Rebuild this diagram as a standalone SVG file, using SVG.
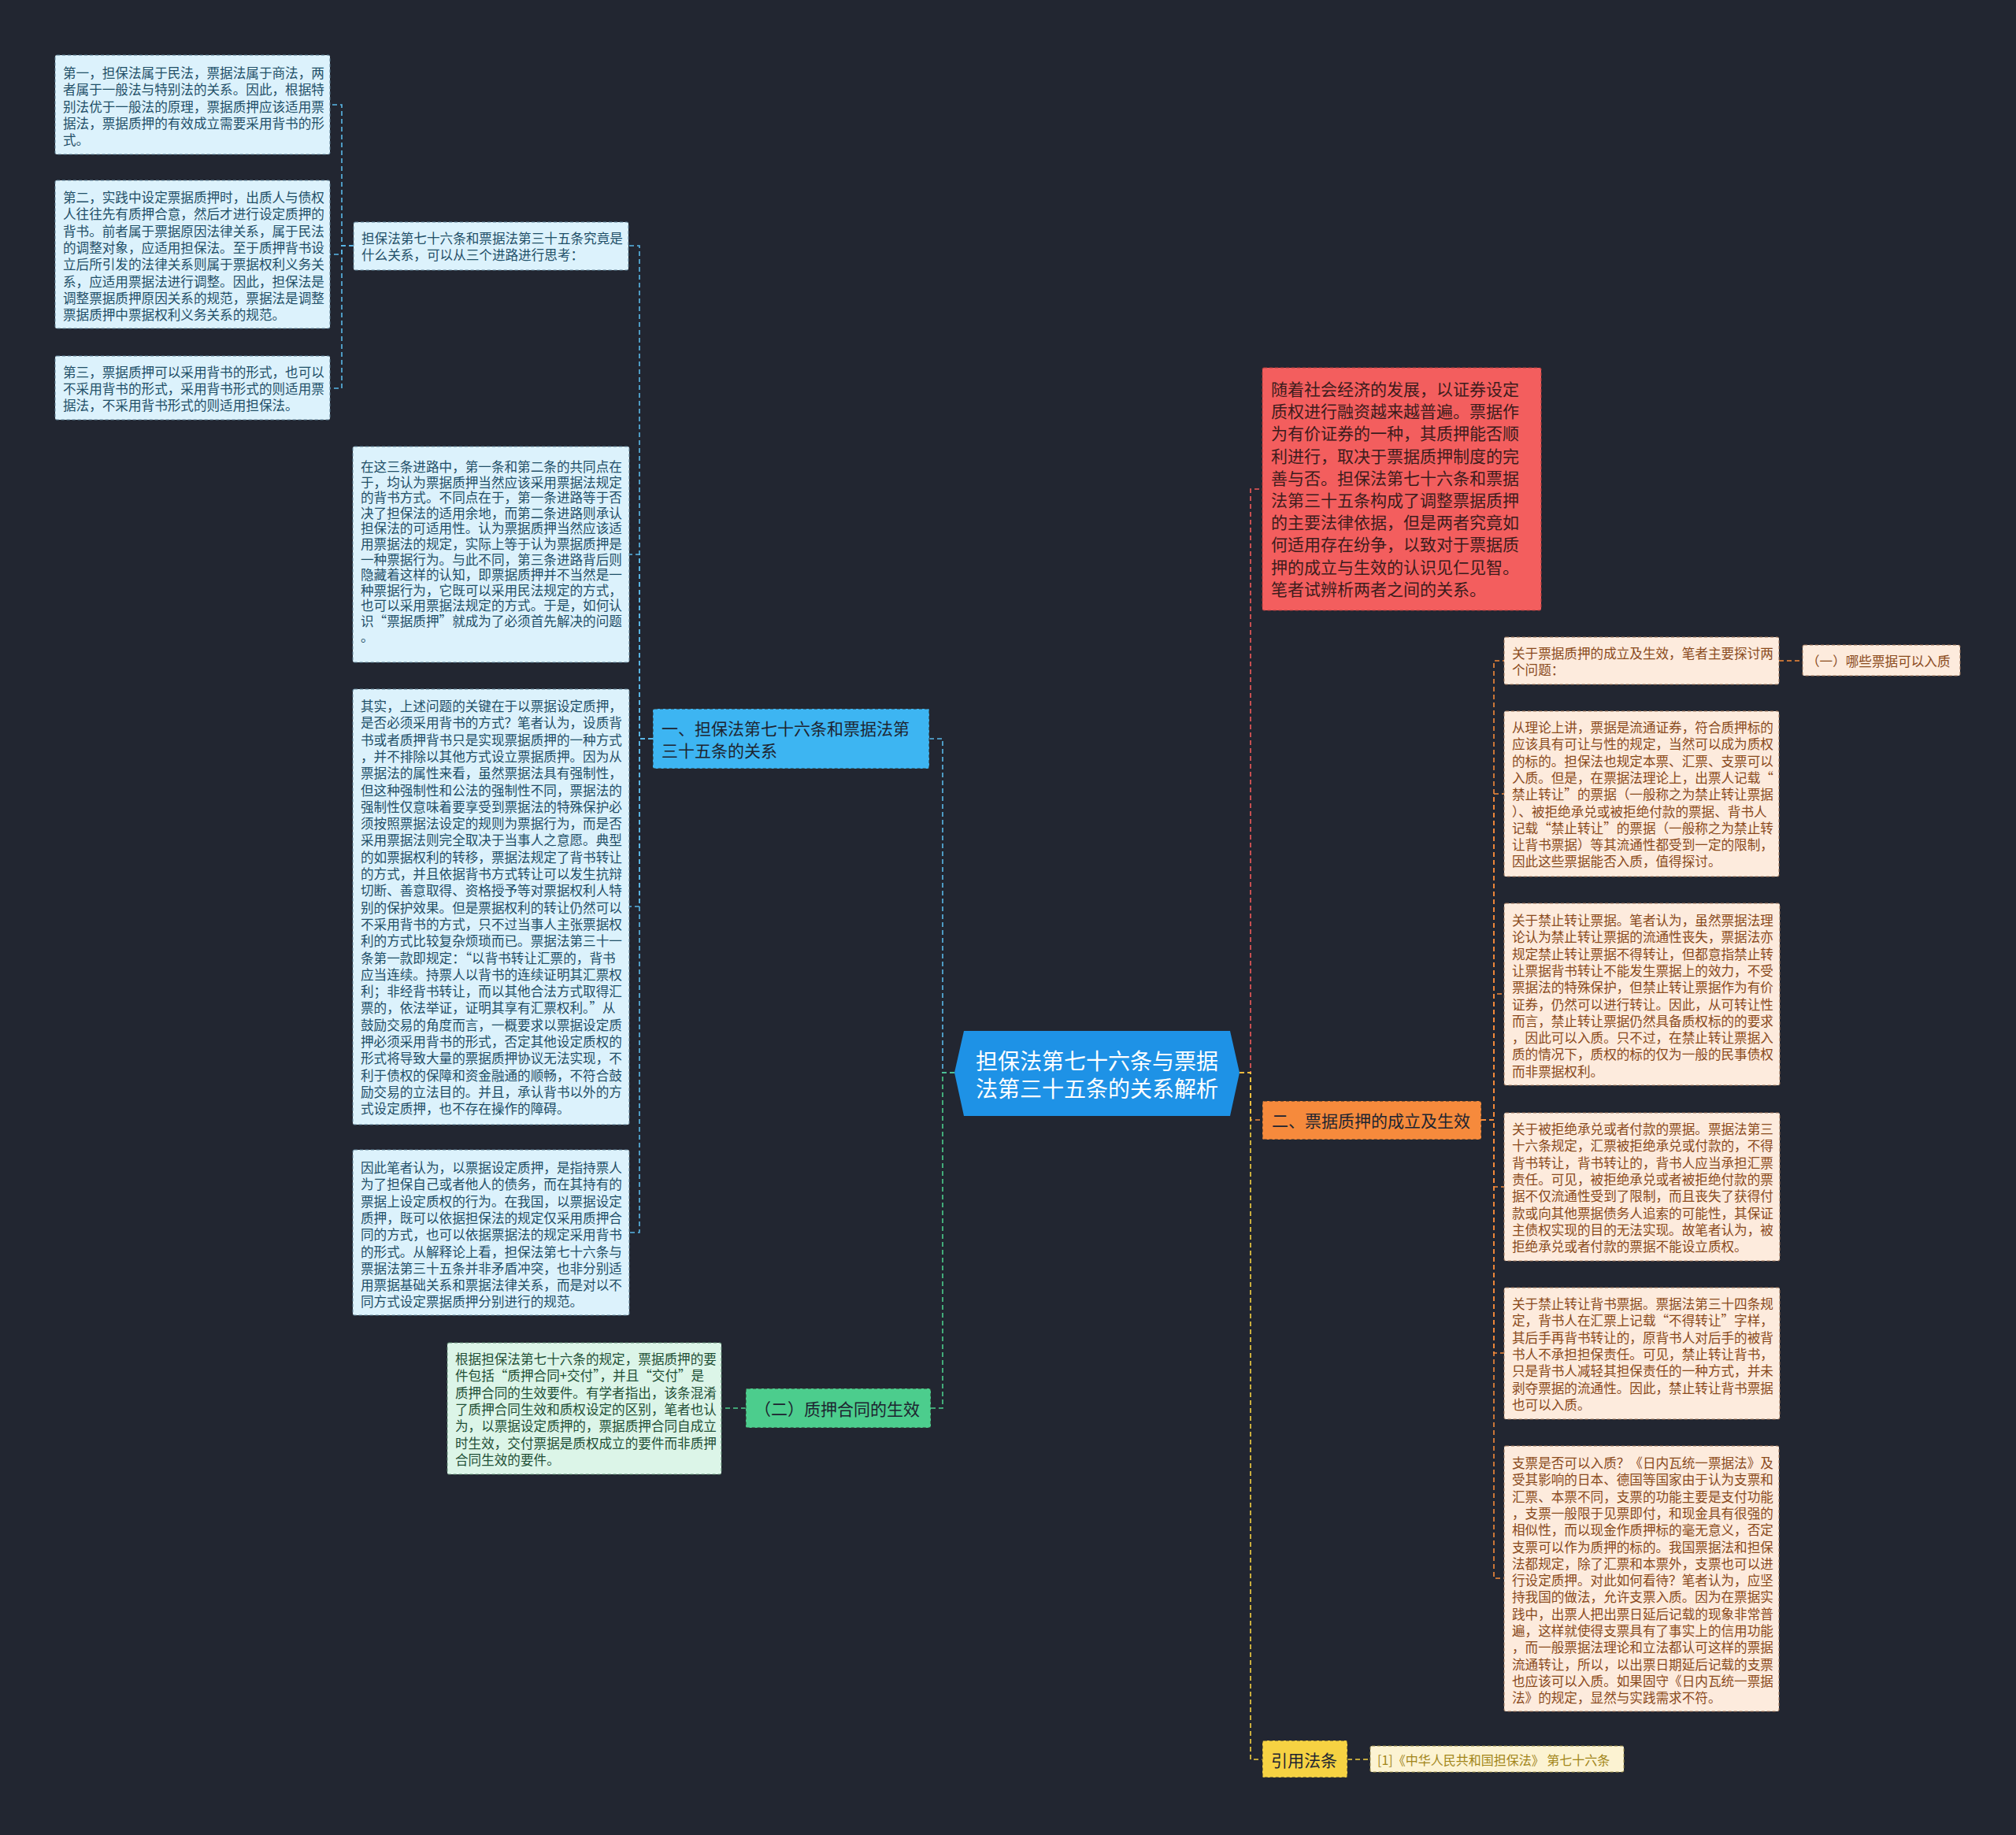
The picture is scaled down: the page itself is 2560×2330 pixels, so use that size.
<svg xmlns="http://www.w3.org/2000/svg" width="2560" height="2330" viewBox="0 0 2560 2330">
<style>
text{font-family:"Noto Sans CJK SC","Liberation Sans",sans-serif;dominant-baseline:central}
.bg{fill:#222631}
.lb rect{fill:#dcf2fc;stroke:#5f8196;stroke-width:1;stroke-dasharray:4 3}
.lb text{fill:#1f4f68;font-size:16.6px}
.gb rect{fill:#dcf5e8;stroke:#5f8a72;stroke-width:1;stroke-dasharray:4 3}
.gb text{fill:#1f4f36;font-size:16.6px}
.pb rect{fill:#fdebdd;stroke:#a0775a;stroke-width:1;stroke-dasharray:4 3}
.pb text{fill:#8a4a1c;font-size:16.6px}
.yb rect{fill:#fcf3d2;stroke:#a0914a;stroke-width:1;stroke-dasharray:4 3}
.yb text{fill:#a2861a;font-size:16px}
.red rect{fill:#f35e5e;stroke:#b03c3c;stroke-width:1;stroke-dasharray:4 3}
.red text{fill:#3d1c1c;font-size:21px}
.main rect{stroke:#2a2a2a;stroke-width:1;stroke-dasharray:4 3}
.main text{fill:#1d2430;font-size:21px}
.root polygon{fill:#1e92e6}
.root text{fill:#ffffff;font-size:28px;text-anchor:middle}
.c{fill:none;stroke-width:1.6;stroke-dasharray:6 4}
.cb{stroke:#5ab8e8}
.cg{stroke:#4cce8c}
.cr{stroke:#f05a5a}
.co{stroke:#f58a3a}
.cy{stroke:#f5d142}
</style>
<rect class="bg" x="0" y="0" width="2560" height="2330"/>

<g id="connectors">
  <path class="c cb" d="M1212,1362 H1197 V938 H1180"/>
  <path class="c cg" d="M1212,1362 H1197 V1788 H1182"/>
  <path class="c cb" d="M829,938 H812 V312 H798"/>
  <path class="c cb" d="M829,938 H812 V704 H799"/>
  <path class="c cb" d="M829,938 H812 V1151 H799"/>
  <path class="c cb" d="M829,938 H812 V1565 H799"/>
  <path class="c cb" d="M449,312 H434 V133 H419"/>
  <path class="c cb" d="M449,312 H434 V323 H419"/>
  <path class="c cb" d="M449,312 H434 V493 H419"/>
  <path class="c cg" d="M947,1788 H916"/>
  <path class="c cr" d="M1574,1362 H1588 V621 H1603"/>
  <path class="c co" d="M1574,1362 H1588 V1422 H1603"/>
  <path class="c cy" d="M1574,1362 H1588 V2234 H1603"/>
  <path class="c co" d="M1881,1422 H1897 V839 H1910"/>
  <path class="c co" d="M1881,1422 H1897 V1008 H1910"/>
  <path class="c co" d="M1881,1422 H1897 V1262 H1910"/>
  <path class="c co" d="M1881,1422 H1897 V1507 H1910"/>
  <path class="c co" d="M1881,1422 H1897 V1718 H1910"/>
  <path class="c co" d="M1881,1422 H1897 V2004 H1910"/>
  <path class="c co" d="M2259,839 H2289"/>
  <path class="c cy" d="M1711,2234 H1740"/>
</g>

<g id="root" class="root">
  <polygon points="1212,1362 1224,1309 1562,1309 1574,1362 1562,1417 1224,1417"/>
  <text x="1393" y="1346">担保法第七十六条与票据</text>
  <text x="1393" y="1381">法第三十五条的关系解析</text>
</g>

<g id="n1" class="main">
  <rect x="829" y="900" width="351" height="76" rx="2" fill="#3db5f2"/>
  <text x="840" y="924">一、担保法第七十六条和票据法第</text>
  <text x="840" y="952">三十五条的关系</text>
</g>

<g id="nB" class="lb">
  <rect x="449" y="282" width="349" height="61" rx="2"/>
  <text x="459" y="302">担保法第七十六条和票据法第三十五条究竟是</text>
  <text x="459" y="323">什么关系，可以从三个进路进行思考：</text>
</g>

<g id="nA1" class="lb">
  <rect x="70" y="70" width="349" height="126" rx="2"/>
  <text x="80" y="92">第一，担保法属于民法，票据法属于商法，两</text>
  <text x="80" y="113.3">者属于一般法与特别法的关系。因此，根据特</text>
  <text x="80" y="134.6">别法优于一般法的原理，票据质押应该适用票</text>
  <text x="80" y="155.9">据法，票据质押的有效成立需要采用背书的形</text>
  <text x="80" y="177.2">式。</text>
</g>

<g id="nA2" class="lb">
  <rect x="70" y="229" width="349" height="188" rx="2"/>
  <text x="80" y="250">第二，实践中设定票据质押时，出质人与债权</text>
  <text x="80" y="271.3">人往往先有质押合意，然后才进行设定质押的</text>
  <text x="80" y="292.6">背书。前者属于票据原因法律关系，属于民法</text>
  <text x="80" y="313.9">的调整对象，应适用担保法。至于质押背书设</text>
  <text x="80" y="335.2">立后所引发的法律关系则属于票据权利义务关</text>
  <text x="80" y="356.5">系，应适用票据法进行调整。因此，担保法是</text>
  <text x="80" y="377.8">调整票据质押原因关系的规范，票据法是调整</text>
  <text x="80" y="399.1">票据质押中票据权利义务关系的规范。</text>
</g>

<g id="nA3" class="lb">
  <rect x="70" y="452" width="349" height="81" rx="2"/>
  <text x="80" y="471.5">第三，票据质押可以采用背书的形式，也可以</text>
  <text x="80" y="492.8">不采用背书的形式，采用背书形式的则适用票</text>
  <text x="80" y="514.1">据法，不采用背书形式的则适用担保法。</text>
</g>

<g id="nC" class="lb">
  <rect x="448" y="567" width="351" height="274" rx="2"/>
  <text x="458" y="592">在这三条进路中，第一条和第二条的共同点在</text>
  <text x="458" y="611.6">于，均认为票据质押当然应该采用票据法规定</text>
  <text x="458" y="631.2">的背书方式。不同点在于，第一条进路等于否</text>
  <text x="458" y="650.8">决了担保法的适用余地，而第二条进路则承认</text>
  <text x="458" y="670.4">担保法的可适用性。认为票据质押当然应该适</text>
  <text x="458" y="690">用票据法的规定，实际上等于认为票据质押是</text>
  <text x="458" y="709.6">一种票据行为。与此不同，第三条进路背后则</text>
  <text x="458" y="729.2">隐藏着这样的认知，即票据质押并不当然是一</text>
  <text x="458" y="748.8">种票据行为，它既可以采用民法规定的方式，</text>
  <text x="458" y="768.4">也可以采用票据法规定的方式。于是，如何认</text>
  <text x="458" y="788">识“票据质押”就成为了必须首先解决的问题</text>
  <text x="458" y="807.6">。</text>
</g>

<g id="nD" class="lb">
  <rect x="448" y="875" width="351" height="553" rx="2"/>
  <text x="458" y="896">其实，上述问题的关键在于以票据设定质押，</text>
  <text x="458" y="917.3">是否必须采用背书的方式？笔者认为，设质背</text>
  <text x="458" y="938.6">书或者质押背书只是实现票据质押的一种方式</text>
  <text x="458" y="959.9">，并不排除以其他方式设立票据质押。因为从</text>
  <text x="458" y="981.2">票据法的属性来看，虽然票据法具有强制性，</text>
  <text x="458" y="1002.5">但这种强制性和公法的强制性不同，票据法的</text>
  <text x="458" y="1023.8">强制性仅意味着要享受到票据法的特殊保护必</text>
  <text x="458" y="1045.1">须按照票据法设定的规则为票据行为，而是否</text>
  <text x="458" y="1066.4">采用票据法则完全取决于当事人之意愿。典型</text>
  <text x="458" y="1087.7">的如票据权利的转移，票据法规定了背书转让</text>
  <text x="458" y="1109">的方式，并且依据背书方式转让可以发生抗辩</text>
  <text x="458" y="1130.3">切断、善意取得、资格授予等对票据权利人特</text>
  <text x="458" y="1151.6">别的保护效果。但是票据权利的转让仍然可以</text>
  <text x="458" y="1172.9">不采用背书的方式，只不过当事人主张票据权</text>
  <text x="458" y="1194.2">利的方式比较复杂烦琐而已。票据法第三十一</text>
  <text x="458" y="1215.5">条第一款即规定：“以背书转让汇票的，背书</text>
  <text x="458" y="1236.8">应当连续。持票人以背书的连续证明其汇票权</text>
  <text x="458" y="1258.1">利；非经背书转让，而以其他合法方式取得汇</text>
  <text x="458" y="1279.4">票的，依法举证，证明其享有汇票权利。”从</text>
  <text x="458" y="1300.7">鼓励交易的角度而言，一概要求以票据设定质</text>
  <text x="458" y="1322">押必须采用背书的形式，否定其他设定质权的</text>
  <text x="458" y="1343.3">形式将导致大量的票据质押协议无法实现，不</text>
  <text x="458" y="1364.6">利于债权的保障和资金融通的顺畅，不符合鼓</text>
  <text x="458" y="1385.9">励交易的立法目的。并且，承认背书以外的方</text>
  <text x="458" y="1407.2">式设定质押，也不存在操作的障碍。</text>
</g>

<g id="nE" class="lb">
  <rect x="448" y="1460" width="351" height="210" rx="2"/>
  <text x="458" y="1482">因此笔者认为，以票据设定质押，是指持票人</text>
  <text x="458" y="1503.3">为了担保自己或者他人的债务，而在其持有的</text>
  <text x="458" y="1524.6">票据上设定质权的行为。在我国，以票据设定</text>
  <text x="458" y="1545.9">质押，既可以依据担保法的规定仅采用质押合</text>
  <text x="458" y="1567.2">同的方式，也可以依据票据法的规定采用背书</text>
  <text x="458" y="1588.5">的形式。从解释论上看，担保法第七十六条与</text>
  <text x="458" y="1609.8">票据法第三十五条并非矛盾冲突，也非分别适</text>
  <text x="458" y="1631.1">用票据基础关系和票据法律关系，而是对以不</text>
  <text x="458" y="1652.4">同方式设定票据质押分别进行的规范。</text>
</g>

<g id="n2" class="main">
  <rect x="947" y="1763" width="235" height="50" rx="2" fill="#4ccd8d"/>
  <text x="958" y="1788">（二）质押合同的生效</text>
</g>

<g id="nF" class="gb">
  <rect x="568" y="1705" width="348" height="167" rx="2"/>
  <text x="578" y="1725">根据担保法第七十六条的规定，票据质押的要</text>
  <text x="578" y="1746.3">件包括“质押合同+交付”，并且“交付”是</text>
  <text x="578" y="1767.6">质押合同的生效要件。有学者指出，该条混淆</text>
  <text x="578" y="1788.9">了质押合同生效和质权设定的区别，笔者也认</text>
  <text x="578" y="1810.2">为，以票据设定质押的，票据质押合同自成立</text>
  <text x="578" y="1831.5">时生效，交付票据是质权成立的要件而非质押</text>
  <text x="578" y="1852.8">合同生效的要件。</text>
</g>

<g id="nG" class="red">
  <rect x="1603" y="467" width="354" height="308" rx="2"/>
  <text x="1614" y="493">随着社会经济的发展，以证券设定</text>
  <text x="1614" y="521.2">质权进行融资越来越普遍。票据作</text>
  <text x="1614" y="549.4">为有价证券的一种，其质押能否顺</text>
  <text x="1614" y="577.6">利进行，取决于票据质押制度的完</text>
  <text x="1614" y="605.8">善与否。担保法第七十六条和票据</text>
  <text x="1614" y="634">法第三十五条构成了调整票据质押</text>
  <text x="1614" y="662.2">的主要法律依据，但是两者究竟如</text>
  <text x="1614" y="690.4">何适用存在纷争，以致对于票据质</text>
  <text x="1614" y="718.6">押的成立与生效的认识见仁见智。</text>
  <text x="1614" y="746.8">笔者试辨析两者之间的关系。</text>
</g>

<g id="n3" class="main">
  <rect x="1603" y="1398" width="278" height="49" rx="2" fill="#f68a3c"/>
  <text x="1615" y="1422">二、票据质押的成立及生效</text>
</g>

<g id="nH1" class="pb">
  <rect x="1910" y="809" width="349" height="60" rx="2"/>
  <text x="1920" y="829">关于票据质押的成立及生效，笔者主要探讨两</text>
  <text x="1920" y="850.3">个问题：</text>
</g>

<g id="nH1a" class="pb">
  <rect x="2289" y="819" width="200" height="39" rx="2"/>
  <text x="2294" y="839" style="font-size:16.6px">（一）哪些票据可以入质</text>
</g>

<g id="nH2" class="pb">
  <rect x="1910" y="903" width="349" height="210" rx="2"/>
  <text x="1920" y="923">从理论上讲，票据是流通证券，符合质押标的</text>
  <text x="1920" y="944.3">应该具有可让与性的规定，当然可以成为质权</text>
  <text x="1920" y="965.6">的标的。担保法也规定本票、汇票、支票可以</text>
  <text x="1920" y="986.9">入质。但是，在票据法理论上，出票人记载“</text>
  <text x="1920" y="1008.2">禁止转让”的票据（一般称之为禁止转让票据</text>
  <text x="1920" y="1029.5">）、被拒绝承兑或被拒绝付款的票据、背书人</text>
  <text x="1920" y="1050.8">记载“禁止转让”的票据（一般称之为禁止转</text>
  <text x="1920" y="1072.1">让背书票据）等其流通性都受到一定的限制，</text>
  <text x="1920" y="1093.4">因此这些票据能否入质，值得探讨。</text>
</g>

<g id="nH3" class="pb">
  <rect x="1910" y="1147" width="350" height="231" rx="2"/>
  <text x="1920" y="1168">关于禁止转让票据。笔者认为，虽然票据法理</text>
  <text x="1920" y="1189.3">论认为禁止转让票据的流通性丧失，票据法亦</text>
  <text x="1920" y="1210.6">规定禁止转让票据不得转让，但都意指禁止转</text>
  <text x="1920" y="1231.9">让票据背书转让不能发生票据上的效力，不受</text>
  <text x="1920" y="1253.2">票据法的特殊保护，但禁止转让票据作为有价</text>
  <text x="1920" y="1274.5">证券，仍然可以进行转让。因此，从可转让性</text>
  <text x="1920" y="1295.8">而言，禁止转让票据仍然具备质权标的的要求</text>
  <text x="1920" y="1317.1">，因此可以入质。只不过，在禁止转让票据入</text>
  <text x="1920" y="1338.4">质的情况下，质权的标的仅为一般的民事债权</text>
  <text x="1920" y="1359.7">而非票据权利。</text>
</g>

<g id="nH4" class="pb">
  <rect x="1910" y="1413" width="350" height="188" rx="2"/>
  <text x="1920" y="1433">关于被拒绝承兑或者付款的票据。票据法第三</text>
  <text x="1920" y="1454.3">十六条规定，汇票被拒绝承兑或付款的，不得</text>
  <text x="1920" y="1475.6">背书转让，背书转让的，背书人应当承担汇票</text>
  <text x="1920" y="1496.9">责任。可见，被拒绝承兑或者被拒绝付款的票</text>
  <text x="1920" y="1518.2">据不仅流通性受到了限制，而且丧失了获得付</text>
  <text x="1920" y="1539.5">款或向其他票据债务人追索的可能性，其保证</text>
  <text x="1920" y="1560.8">主债权实现的目的无法实现。故笔者认为，被</text>
  <text x="1920" y="1582.1">拒绝承兑或者付款的票据不能设立质权。</text>
</g>

<g id="nH5" class="pb">
  <rect x="1910" y="1635" width="350" height="167" rx="2"/>
  <text x="1920" y="1655">关于禁止转让背书票据。票据法第三十四条规</text>
  <text x="1920" y="1676.3">定，背书人在汇票上记载“不得转让”字样，</text>
  <text x="1920" y="1697.6">其后手再背书转让的，原背书人对后手的被背</text>
  <text x="1920" y="1718.9">书人不承担担保责任。可见，禁止转让背书，</text>
  <text x="1920" y="1740.2">只是背书人减轻其担保责任的一种方式，并未</text>
  <text x="1920" y="1761.5">剥夺票据的流通性。因此，禁止转让背书票据</text>
  <text x="1920" y="1782.8">也可以入质。</text>
</g>

<g id="nH6" class="pb">
  <rect x="1910" y="1836" width="349" height="337" rx="2"/>
  <text x="1920" y="1857">支票是否可以入质？《日内瓦统一票据法》及</text>
  <text x="1920" y="1878.3">受其影响的日本、德国等国家由于认为支票和</text>
  <text x="1920" y="1899.6">汇票、本票不同，支票的功能主要是支付功能</text>
  <text x="1920" y="1920.9">，支票一般限于见票即付，和现金具有很强的</text>
  <text x="1920" y="1942.2">相似性，而以现金作质押标的毫无意义，否定</text>
  <text x="1920" y="1963.5">支票可以作为质押的标的。我国票据法和担保</text>
  <text x="1920" y="1984.8">法都规定，除了汇票和本票外，支票也可以进</text>
  <text x="1920" y="2006.1">行设定质押。对此如何看待？笔者认为，应坚</text>
  <text x="1920" y="2027.4">持我国的做法，允许支票入质。因为在票据实</text>
  <text x="1920" y="2048.7">践中，出票人把出票日延后记载的现象非常普</text>
  <text x="1920" y="2070">遍，这样就使得支票具有了事实上的信用功能</text>
  <text x="1920" y="2091.3">，而一般票据法理论和立法都认可这样的票据</text>
  <text x="1920" y="2112.6">流通转让，所以，以出票日期延后记载的支票</text>
  <text x="1920" y="2133.9">也应该可以入质。如果固守《日内瓦统一票据</text>
  <text x="1920" y="2155.2">法》的规定，显然与实践需求不符。</text>
</g>

<g id="n4" class="main">
  <rect x="1603" y="2210" width="108" height="47" rx="2" fill="#f6d243"/>
  <text x="1614" y="2234">引用法条</text>
</g>

<g id="nY" class="yb">
  <rect x="1740" y="2217" width="322" height="33" rx="2"/>
  <text x="1749" y="2234">[1]《中华人民共和国担保法》 第七十六条</text>
</g>
</svg>
